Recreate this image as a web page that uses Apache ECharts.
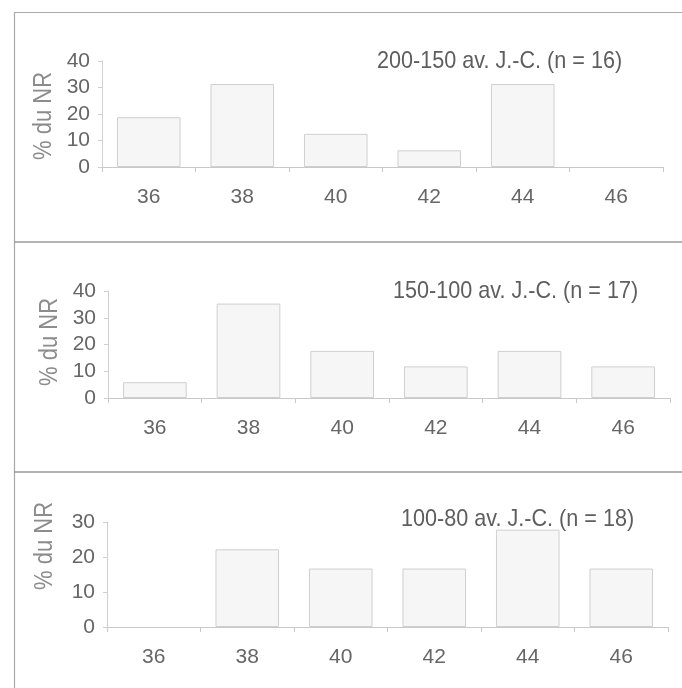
<!DOCTYPE html>
<html>
<head>
<meta charset="utf-8">
<script src="https://cdn.jsdelivr.net/npm/echarts@6/dist/echarts.min.js"></script>
<style>
html,body{margin:0;padding:0;background:#fff;}
#chart{width:682px;height:688px;}
</style>
</head>
<body>
<div id="chart"></div>
<script>
// ---- data ----
const categories = ['36', '38', '40', '42', '44', '46'];
const values1 = [18.8, 31.3, 12.5, 6.3, 31.3, 0];
const values2 = [5.9, 35.3, 17.6, 11.8, 17.6, 11.8];
const values3 = [0, 22.2, 16.7, 16.7, 27.8, 16.7];
const panelTitles = ['200-150 av. J.-C. (n = 16)', '150-100 av. J.-C. (n = 17)', '100-80 av. J.-C. (n = 18)'];
const yMaxes = [40, 40, 30];
const yInterval = 10;
const yAxisName = '% du NR';

// ---- layout / style ----
const FONT = '"Liberation Sans", Arial, sans-serif';
const grids = [
  {left: 102, top: 61, width: 561, height: 106},
  {left: 108, top: 291, width: 562, height: 107},
  {left: 107, top: 522, width: 561, height: 105}
];
const titlePos = [[377, 61], [393, 291], [401, 519]];
const namePos = [[44, 116], [50, 342], [45, 546]];
const seriesData = [values1, values2, values3];

const option = {
  animation: false,
  backgroundColor: '#ffffff',
  grid: grids.map(g => Object.assign({containLabel: false}, g)),
  xAxis: grids.map((g, i) => ({
    type: 'category',
    gridIndex: i,
    data: categories,
    axisLine: {show: true, lineStyle: {color: '#c9c9c9', width: 1}},
    axisTick: {show: true, length: 5, lineStyle: {color: '#c9c9c9'}},
    axisLabel: {color: '#666', fontSize: 21, fontFamily: FONT, margin: 20}
  })),
  yAxis: grids.map((g, i) => ({
    type: 'value',
    gridIndex: i,
    min: 0,
    max: yMaxes[i],
    interval: yInterval,
    splitLine: {show: false},
    axisLine: {show: true, lineStyle: {color: '#d0d0d0', width: 1}},
    axisTick: {show: true, length: 4, lineStyle: {color: '#d0d0d0'}},
    axisLabel: {color: '#666', fontSize: 21, fontFamily: FONT, margin: 12}
  })),
  series: seriesData.map((d, i) => ({
    type: 'bar',
    xAxisIndex: i,
    yAxisIndex: i,
    data: d.map(v => (v === 0 ? {value: v, itemStyle: {borderWidth: 0}} : v)),
    barWidth: '68%',
    itemStyle: {color: '#f6f6f6', borderColor: '#cfcfcf', borderWidth: 1}
  })),
  graphic: [
    {type: 'line', shape: {x1: 14, y1: 12.5, x2: 682, y2: 12.5}, style: {stroke: '#a8a8a8', lineWidth: 1.2}},
    {type: 'line', shape: {x1: 14.5, y1: 12, x2: 14.5, y2: 688}, style: {stroke: '#a8a8a8', lineWidth: 1.2}},
    {type: 'line', shape: {x1: 14, y1: 242, x2: 682, y2: 242}, style: {stroke: '#9a9a9a', lineWidth: 1.6}},
    {type: 'line', shape: {x1: 14, y1: 472, x2: 682, y2: 472}, style: {stroke: '#9a9a9a', lineWidth: 1.6}}
  ].concat(panelTitles.map((t, i) => ({
    type: 'text',
    x: titlePos[i][0],
    y: titlePos[i][1],
    scaleX: 0.9,
    style: {text: t, fill: '#5e5e5e', font: '24px ' + FONT, textVerticalAlign: 'middle', verticalAlign: 'middle'}
  }))).concat(namePos.map((p, i) => ({
    type: 'text',
    x: p[0],
    y: p[1],
    rotation: Math.PI / 2,
    scaleX: 0.88,
    style: {text: yAxisName, fill: '#8c8c8c', font: '25px ' + FONT, align: 'center', verticalAlign: 'middle', textAlign: 'center', textVerticalAlign: 'middle'}
  })))
};

const chart = echarts.init(document.getElementById('chart'), null, {renderer: 'canvas'});
chart.setOption(option);
</script>
</body>
</html>
